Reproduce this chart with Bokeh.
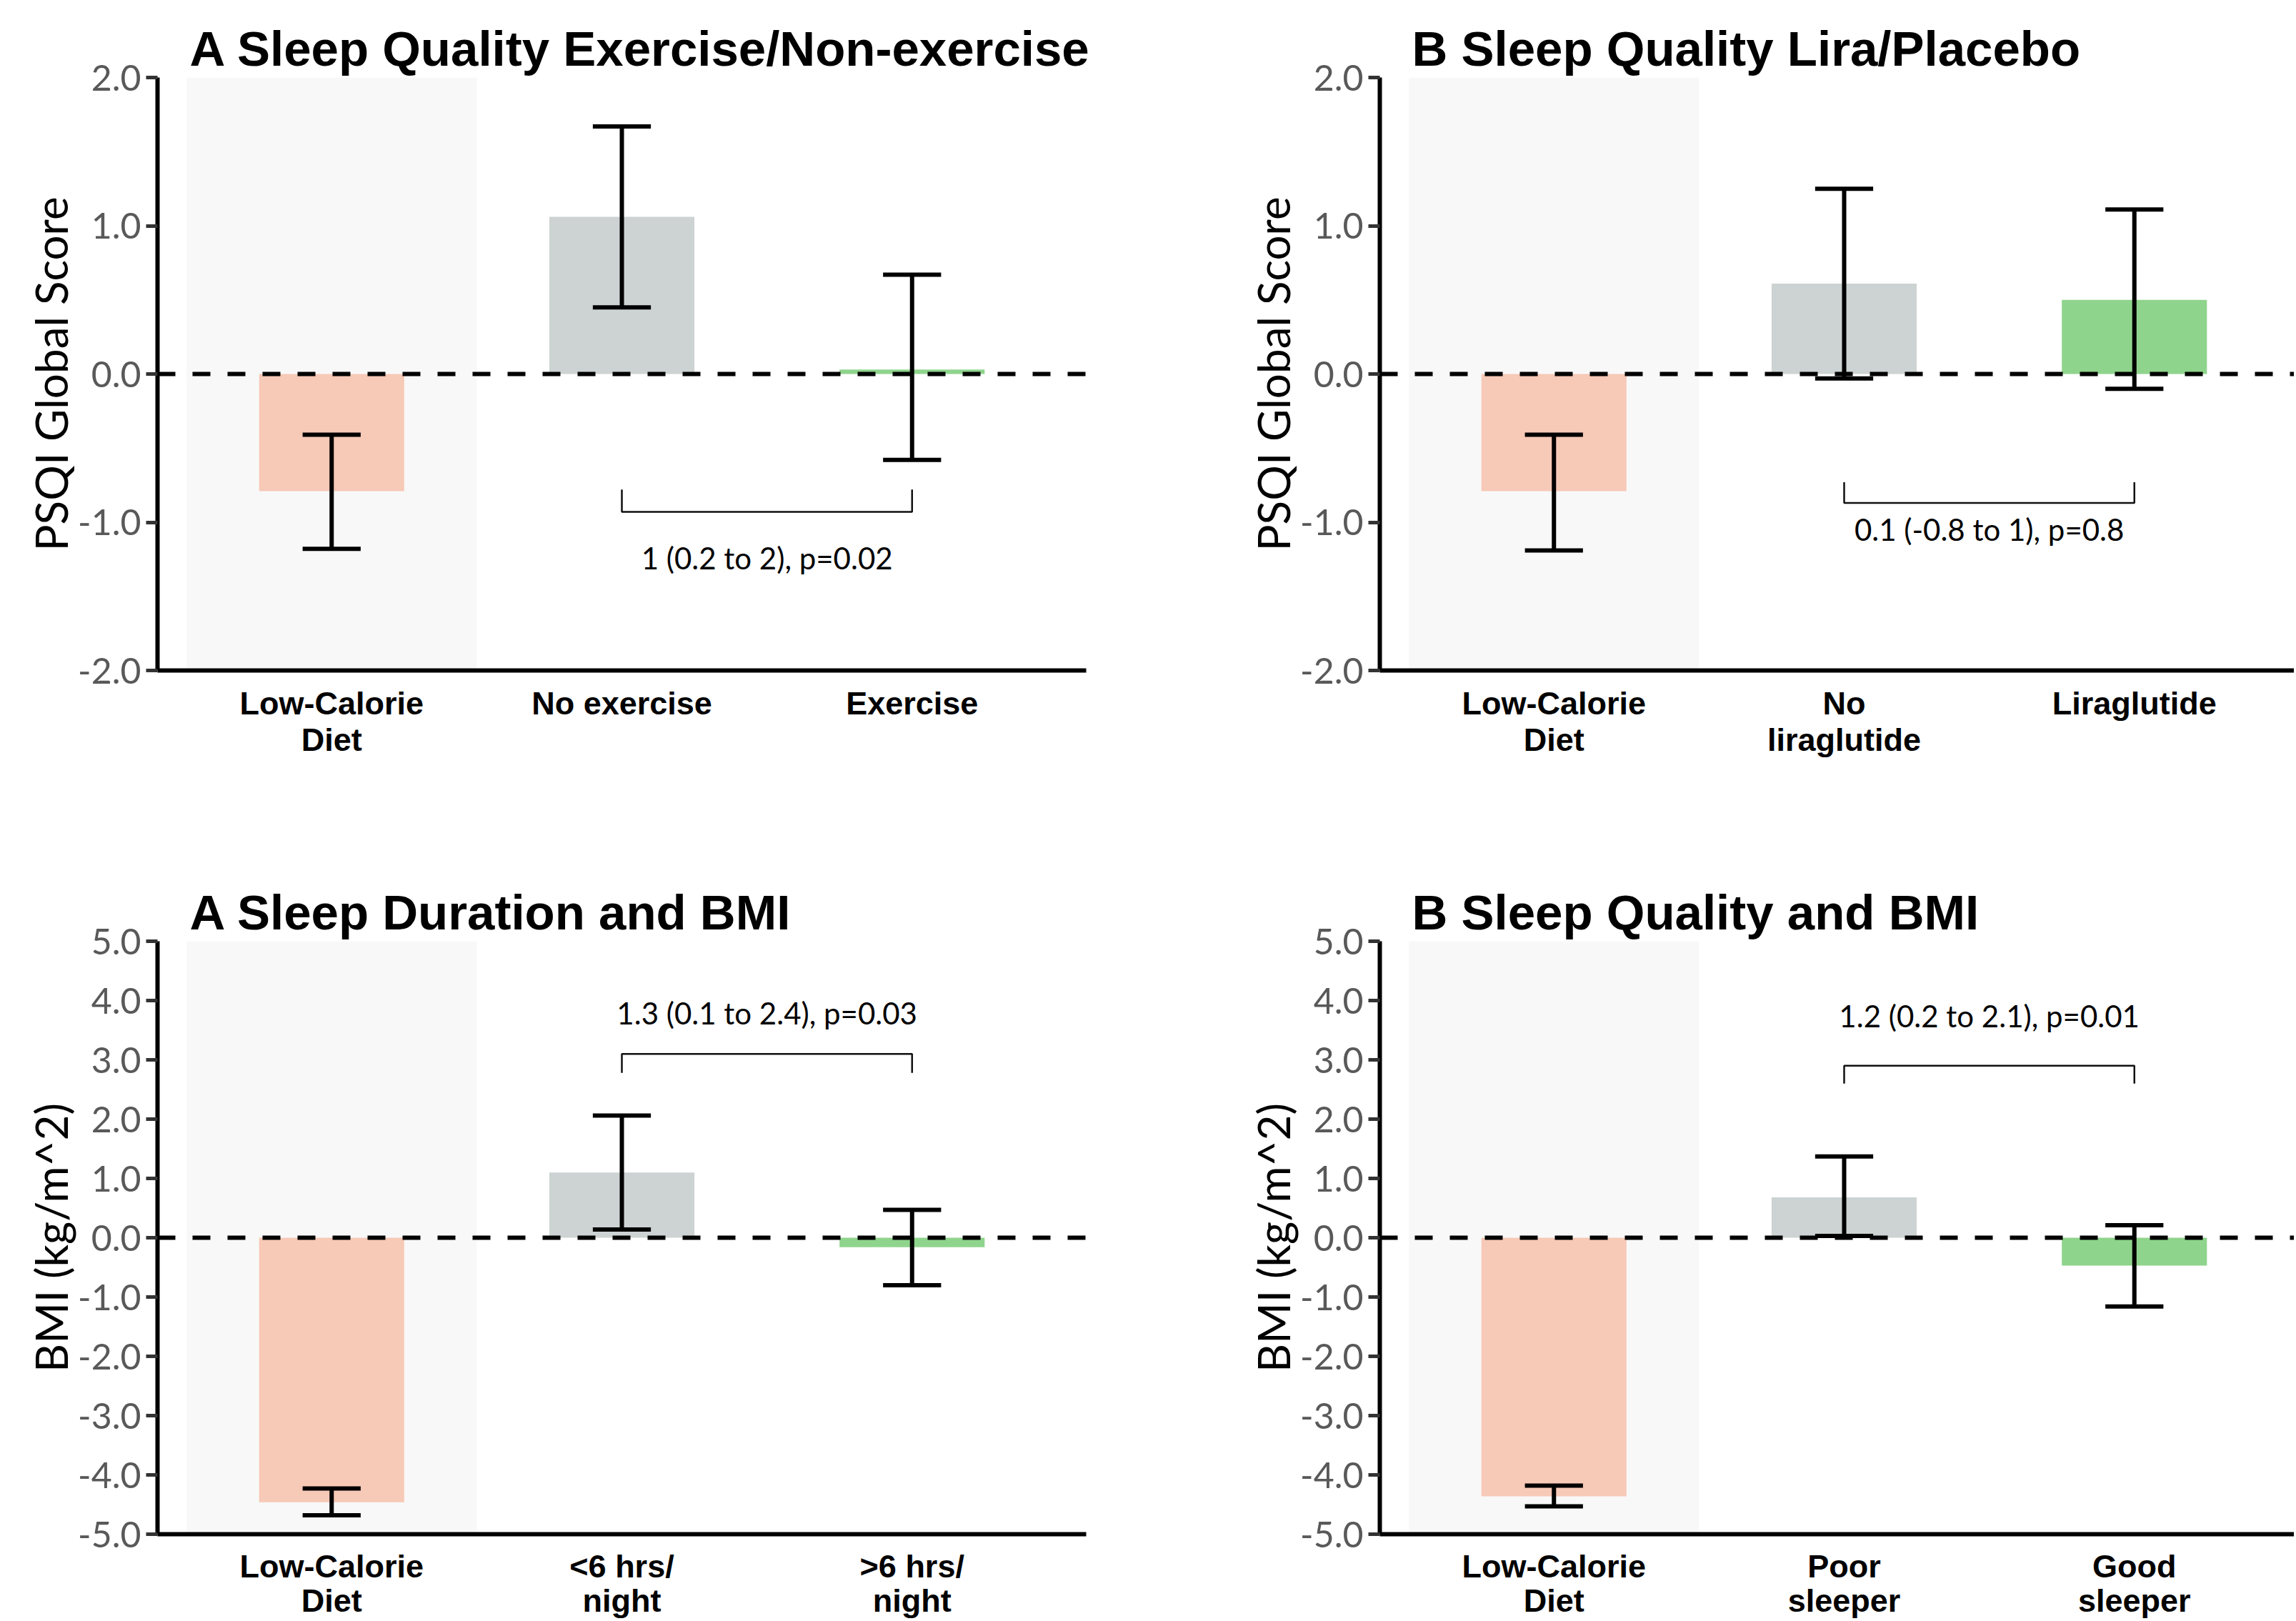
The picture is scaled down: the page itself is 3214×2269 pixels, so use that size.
from bokeh.plotting import figure
from bokeh.models import Range1d, FixedTicker, Span, NumeralTickFormatter
from bokeh.layouts import column, row
from bokeh.embed import file_html
from bokeh.resources import INLINE
from bokeh.core.properties import value

# ---------------- data ----------------
groups_ex = ["Low-Calorie\nDiet", "No exercise", "Exercise"]
psqi_ex_mean = [-0.79, 1.06, 0.03]
psqi_ex_low = [-1.18, 0.45, -0.58]
psqi_ex_high = [-0.41, 1.67, 0.67]
psqi_ex_diff = "1 (0.2 to 2), p=0.02"

groups_lira = ["Low-Calorie\nDiet", "No\nliraglutide", "Liraglutide"]
psqi_lira_mean = [-0.79, 0.61, 0.50]
psqi_lira_low = [-1.19, -0.03, -0.10]
psqi_lira_high = [-0.41, 1.25, 1.11]
psqi_lira_diff = "0.1 (-0.8 to 1), p=0.8"

groups_dur = ["Low-Calorie\nDiet", "<6 hrs/\nnight", ">6 hrs/\nnight"]
bmi_dur_mean = [-4.46, 1.10, -0.16]
bmi_dur_low = [-4.68, 0.14, -0.80]
bmi_dur_high = [-4.23, 2.06, 0.47]
bmi_dur_diff = "1.3 (0.1 to 2.4), p=0.03"

groups_qual = ["Low-Calorie\nDiet", "Poor\nsleeper", "Good\nsleeper"]
bmi_qual_mean = [-4.36, 0.68, -0.47]
bmi_qual_low = [-4.53, 0.03, -1.16]
bmi_qual_high = [-4.18, 1.37, 0.21]
bmi_qual_diff = "1.2 (0.2 to 2.1), p=0.01"

psqi_ticks = [-2.0, -1.0, 0.0, 1.0, 2.0]
bmi_ticks = [-5.0, -4.0, -3.0, -2.0, -1.0, 0.0, 1.0, 2.0, 3.0, 4.0, 5.0]

bar_colors = ["#f7c9b7", "#cdd3d2", "#8fd48c"]

TICK_FONT = "Lato"
LABEL_FONT = "Liberation Sans"


def make_panel(title, groups, mean, low, high, diff_text, bracket_y, bracket_tip,
               text_y, yticks, ylabel, frame_w, border_left, border_right,
               border_top, border_bottom, label_line_height, label_standoff):
    x = list(range(len(groups)))
    ymin, ymax = yticks[0], yticks[-1]
    unit = 406.25
    x_end = -0.6 + frame_w / unit
    p = figure(width=border_left + frame_w + border_right,
               height=border_top + 830 + border_bottom,
               x_range=Range1d(-0.6, x_end), y_range=Range1d(ymin, ymax),
               output_backend="svg", toolbar_location=None,
               min_border_left=border_left, min_border_right=border_right,
               min_border_top=border_top, min_border_bottom=border_bottom)
    p.outline_line_color = None
    p.xgrid.visible = False
    p.ygrid.visible = False
    p.background_fill_color = "white"
    p.border_fill_color = "white"

    # title
    p.title.text = title
    p.title.align = "left"
    p.title.offset = 45
    p.title.text_font = LABEL_FONT
    p.title.text_font_size = "69px"
    p.title.text_font_style = "bold"
    p.title.text_color = "black"
    p.title.standoff = 4

    # shaded reference column
    p.vbar(x=[x[0]], top=[ymax], bottom=[ymin], width=1.0,
           fill_color="#f8f8f8", line_color=None, level="underlay")

    # bars
    p.vbar(x=x, top=mean, bottom=0, width=0.5, fill_color=bar_colors,
           line_color=None)

    # zero line
    p.add_layout(Span(location=0, dimension="width", line_color="black",
                      line_width=6, line_dash="25 24", level="overlay"))

    # error bars
    p.segment(x0=x, y0=low, x1=x, y1=high, line_color="black", line_width=6)
    p.segment(x0=[v - 0.1 for v in x], y0=low, x1=[v + 0.1 for v in x],
              y1=low, line_color="black", line_width=6)
    p.segment(x0=[v - 0.1 for v in x], y0=high, x1=[v + 0.1 for v in x],
              y1=high, line_color="black", line_width=6)

    # comparison bracket
    p.line(x=[x[1], x[1], x[2], x[2]],
           y=[bracket_tip, bracket_y, bracket_y, bracket_tip],
           line_color="#111111", line_width=2.5)
    p.text(x=[(x[1] + x[2]) / 2], y=[text_y], text=[diff_text],
           text_font=value(TICK_FONT), text_font_size="42px",
           text_align="center", text_baseline="middle", text_color="black")

    # y axis
    ya = p.yaxis[0]
    ya.ticker = FixedTicker(ticks=yticks)
    ya.formatter = NumeralTickFormatter(format="0.0")
    ya.minor_tick_line_color = None
    ya.major_tick_in = 0
    ya.major_tick_out = 16
    ya.major_tick_line_width = 5
    ya.major_tick_line_color = "#333333"
    ya.axis_line_width = 6
    ya.axis_line_color = "black"
    ya.major_label_text_font = TICK_FONT
    ya.major_label_text_font_size = "50px"
    ya.major_label_text_color = "#595959"
    ya.major_label_standoff = 7
    ya.axis_label = ylabel
    ya.axis_label_text_font = TICK_FONT
    ya.axis_label_text_font_size = "62px"
    ya.axis_label_text_font_style = "normal"
    ya.axis_label_text_color = "black"
    ya.axis_label_standoff = -2

    # x axis with category labels
    xa = p.xaxis[0]
    xa.ticker = FixedTicker(ticks=x)
    xa.major_label_overrides = {i: g for i, g in enumerate(groups)}
    xa.minor_tick_line_color = None
    xa.major_tick_line_color = None
    xa.major_tick_in = 0
    xa.major_tick_out = 0
    xa.axis_line_width = 6
    xa.axis_line_color = "black"
    xa.major_label_text_font = LABEL_FONT
    xa.major_label_text_font_size = "45px"
    xa.major_label_text_font_style = "bold"
    xa.major_label_text_color = "black"
    xa.major_label_text_line_height = label_line_height
    xa.major_label_standoff = label_standoff
    return p


p1 = make_panel("A Sleep Quality Exercise/Non-exercise", groups_ex,
                psqi_ex_mean, psqi_ex_low, psqi_ex_high, psqi_ex_diff,
                -0.93, -0.78, -1.24, psqi_ticks, "PSQI Global Score",
                1300, 220, 79, 108, 221, 1.0, 20)
p2 = make_panel("B Sleep Quality Lira/Placebo", groups_lira,
                psqi_lira_mean, psqi_lira_low, psqi_lira_high, psqi_lira_diff,
                -0.87, -0.73, -1.05, psqi_ticks, "PSQI Global Score",
                1280, 332, 0, 108, 221, 1.0, 20)
p3 = make_panel("A Sleep Duration and BMI", groups_dur,
                bmi_dur_mean, bmi_dur_low, bmi_dur_high, bmi_dur_diff,
                3.10, 2.78, 3.79, bmi_ticks, "BMI (kg/m^2)",
                1300, 220, 79, 158, 122, 0.95, 19)
p4 = make_panel("B Sleep Quality and BMI", groups_qual,
                bmi_qual_mean, bmi_qual_low, bmi_qual_high, bmi_qual_diff,
                2.90, 2.60, 3.74, bmi_ticks, "BMI (kg/m^2)",
                1280, 332, 0, 158, 122, 0.95, 19)

layout = column(row(p1, p2), row(p3, p4))
open("out.html", "w").write(file_html(layout, INLINE))
